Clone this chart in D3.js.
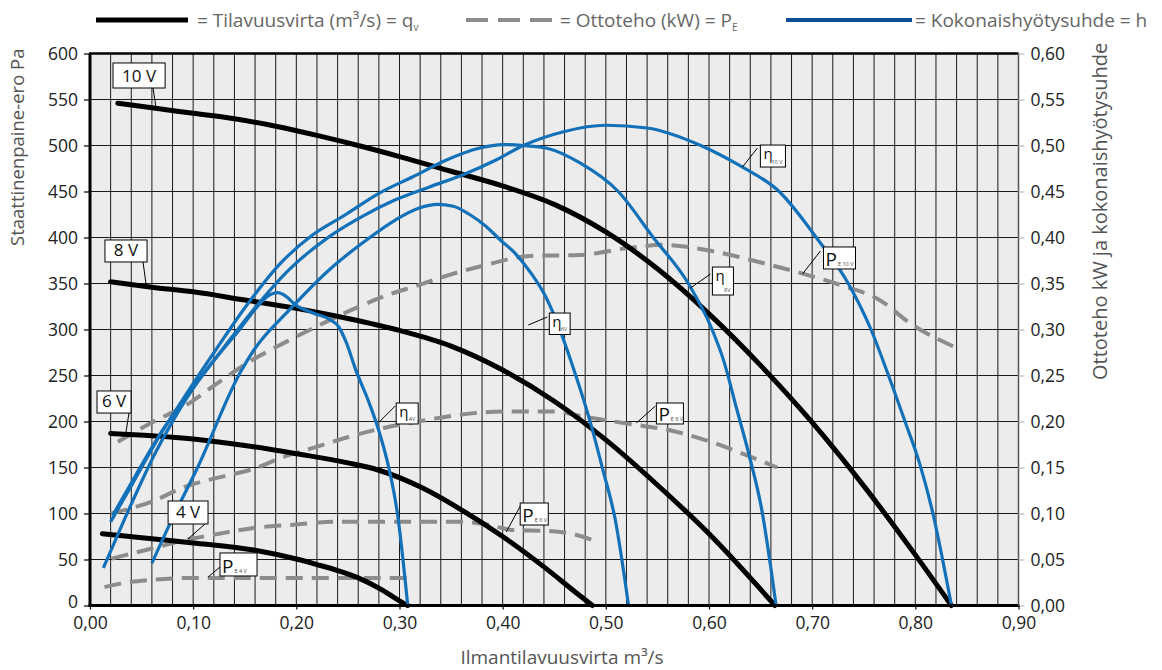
<!DOCTYPE html>
<html><head><meta charset="utf-8">
<script src="https://cdn.jsdelivr.net/npm/d3@7"></script>
<style>
body{margin:0;background:#fff}
svg{display:block}
text{font-family:"Open Sans",Lato,sans-serif}
</style>
</head><body>
<svg id="chart" width="1162" height="670"></svg>
<script>
// ---------- tick labels ----------
const flowTicks = [0,0.1,0.2,0.3,0.4,0.5,0.6,0.7,0.8,0.9];
const pressureTicks = [0,50,100,150,200,250,300,350,400,450,500,550,600];
const powerTicks = [0,0.05,0.1,0.15,0.2,0.25,0.3,0.35,0.4,0.45,0.5,0.55,0.6];

// ---------- static pressure (Pa) vs flow (m3/s) ----------
const pressure4V = [[0.012,78],[0.06,72.5],[0.10,68],[0.16,60],[0.20,50.5],[0.22,44.5],[0.24,38],[0.26,30],[0.283,17],[0.30,5],[0.308,0]];
const pressure6V = [[0.02,187],[0.06,184.5],[0.10,181],[0.15,174],[0.20,165],[0.25,155],[0.28,147],[0.32,129],[0.36,104],[0.40,75],[0.44,42],[0.47,15],[0.487,0]];
const pressure8V = [[0.02,352],[0.06,346],[0.10,341],[0.15,332],[0.20,323],[0.25,312],[0.30,299],[0.35,282],[0.40,256],[0.45,222],[0.50,180],[0.55,131],[0.60,78],[0.664,0]];
const pressure10V = [[0.027,546],[0.06,541],[0.10,535],[0.14,529],[0.18,521],[0.22,511],[0.26,500],[0.30,488],[0.35,472],[0.40,456],[0.45,436],[0.50,406],[0.55,366],[0.60,317],[0.65,261],[0.70,199],[0.75,130],[0.80,55],[0.835,0]];

// ---------- input power (kW) ----------
const power4V = [[0.014,0.02],[0.035,0.025],[0.06,0.028],[0.10,0.030],[0.20,0.030],[0.307,0.030]];
const power6V = [[0.021,0.051],[0.06,0.062],[0.092,0.071],[0.125,0.078],[0.157,0.084],[0.20,0.088],[0.238,0.091],[0.28,0.091],[0.36,0.091],[0.385,0.088],[0.41,0.082],[0.445,0.081],[0.467,0.078],[0.49,0.070]];
const power8V = [[0.02,0.10],[0.06,0.113],[0.092,0.129],[0.124,0.139],[0.157,0.148],[0.189,0.162],[0.221,0.173],[0.253,0.184],[0.285,0.193],[0.318,0.200],[0.35,0.206],[0.382,0.210],[0.41,0.211],[0.446,0.211],[0.485,0.204],[0.525,0.197],[0.564,0.19],[0.604,0.177],[0.635,0.164],[0.666,0.150]];
const power10V = [[0.027,0.178],[0.06,0.199],[0.092,0.217],[0.124,0.242],[0.156,0.266],[0.189,0.286],[0.221,0.304],[0.253,0.321],[0.285,0.336],[0.318,0.348],[0.35,0.36],[0.38,0.369],[0.427,0.380],[0.475,0.381],[0.524,0.389],[0.555,0.392],[0.604,0.385],[0.653,0.372],[0.69,0.361],[0.731,0.347],[0.764,0.333],[0.796,0.306],[0.84,0.28]];

// ---------- total efficiency ----------
const eff4V = [[0.013,0.041],[0.03,0.085],[0.046,0.125],[0.062,0.163],[0.079,0.198],[0.10,0.236],[0.125,0.273],[0.145,0.300],[0.16,0.322],[0.172,0.336],[0.182,0.340],[0.19,0.336],[0.199,0.327],[0.216,0.318],[0.232,0.311],[0.241,0.303],[0.248,0.287],[0.258,0.255],[0.27,0.222],[0.28,0.19],[0.29,0.148],[0.298,0.10],[0.308,0]];
const eff6V = [[0.06,0.046],[0.08,0.095],[0.103,0.147],[0.146,0.254],[0.159,0.278],[0.193,0.321],[0.232,0.365],[0.264,0.394],[0.296,0.419],[0.319,0.432],[0.337,0.436],[0.352,0.434],[0.368,0.425],[0.384,0.412],[0.398,0.397],[0.411,0.384],[0.427,0.362],[0.442,0.335],[0.457,0.295],[0.467,0.263],[0.485,0.199],[0.497,0.148],[0.509,0.094],[0.522,0]];
const eff8V = [[0.02,0.091],[0.04,0.13],[0.063,0.176],[0.09,0.224],[0.122,0.278],[0.151,0.325],[0.183,0.37],[0.216,0.403],[0.248,0.425],[0.28,0.448],[0.313,0.466],[0.345,0.484],[0.377,0.497],[0.40,0.501],[0.42,0.50],[0.443,0.497],[0.475,0.481],[0.512,0.45],[0.546,0.40],[0.58,0.35],[0.603,0.30],[0.614,0.267],[0.627,0.213],[0.639,0.163],[0.651,0.105],[0.665,0]];
const eff10V = [[0.022,0.098],[0.045,0.143],[0.07,0.19],[0.10,0.237],[0.128,0.278],[0.161,0.325],[0.193,0.365],[0.232,0.401],[0.264,0.423],[0.296,0.441],[0.329,0.455],[0.361,0.468],[0.393,0.484],[0.42,0.50],[0.459,0.515],[0.50,0.522],[0.54,0.519],[0.592,0.50],[0.63,0.478],[0.668,0.45],[0.704,0.40],[0.735,0.35],[0.757,0.30],[0.774,0.25],[0.79,0.20],[0.804,0.155],[0.816,0.105],[0.835,0]];

// ---------- curve labels (box corners & leader ends in data units: flow, kW) ----------
const curveLabels = [
  {main:"10 V", sub:"", box:[0.0223,0.5897,0.0728,0.5625], lead:[0.0611,0.5625,0.064,0.541]},
  {main:"8 V", sub:"", box:[0.0145,0.3973,0.0553,0.3734], lead:[0.0514,0.3734,0.0543,0.3495]},
  {main:"6 V", sub:"", box:[0.0068,0.2332,0.0398,0.2092], lead:[0.0378,0.2092,0.0349,0.1886]},
  {main:"4 V", sub:"", box:[0.0757,0.1136,0.1144,0.0886], lead:[0.1115,0.0886,0.095,0.0723]},
  {main:"P", sub:"E 4 V", box:[0.126,0.0571,0.1619,0.0321], lead:[0.126,0.0418,0.1145,0.031]},
  {main:"P", sub:"E 6 V", box:[0.417,0.1114,0.4442,0.0875], lead:[0.417,0.108,0.4035,0.0799]},
  {main:"P", sub:"E 8 V", box:[0.549,0.2201,0.5752,0.1973], lead:[0.548,0.2168,0.5296,0.1984]},
  {main:"P", sub:"E 10 V", box:[0.711,0.3897,0.7420,0.3658], lead:[0.708,0.3853,0.6906,0.3603]},
  {main:"η", sub:"4V", box:[0.2968,0.2201,0.3181,0.1973], lead:[0.2958,0.2168,0.2813,0.2005]},
  {main:"η", sub:"6V", box:[0.4452,0.3179,0.4654,0.2946], lead:[0.4433,0.3136,0.4248,0.3049]},
  {main:"η", sub:"8V", box:[0.6033,0.3679,0.6237,0.3375], lead:[0.6014,0.3603,0.5820,0.3451]},
  {main:"η", sub:"10 V", box:[0.6498,0.5005,0.6741,0.4766], lead:[0.647,0.4973,0.6324,0.4766]}
];

// ---------- drawing ----------
const svg = d3.select("#chart");
const x = d3.scaleLinear().domain([0,0.9]).range([90,1018.5]);
const yL = d3.scaleLinear().domain([0,600]).range([605.5,53.5]);
const yR = d3.scaleLinear().domain([0,0.6]).range([605.5,53.5]);
const comma = f => v => d3.format(f)(v).replace(".", ",");
const tickFont = 17.5;

svg.append("rect").attr("x",x(0)).attr("y",yL(600)).attr("width",x(0.9)-x(0)).attr("height",yL(0)-yL(600)).attr("fill","#ececec");

const gridX = d3.range(0,0.9001,0.02);
svg.append("g").selectAll("line").data(gridX).join("line")
  .attr("x1",d=>x(d)).attr("x2",d=>x(d)).attr("y1",yL(0)).attr("y2",yL(600))
  .attr("stroke","#1a1a1a").attr("stroke-width",1);
svg.append("g").selectAll("line").data(pressureTicks).join("line")
  .attr("x1",x(0)).attr("x2",x(0.9)).attr("y1",d=>yL(d)).attr("y2",d=>yL(d))
  .attr("stroke","#1a1a1a").attr("stroke-width",1);

const lineP = d3.line().x(d=>x(d[0])).y(d=>yL(d[1])).curve(d3.curveMonotoneX);
const lineK = d3.line().x(d=>x(d[0])).y(d=>yR(d[1])).curve(d3.curveMonotoneX);

svg.append("g").selectAll("path").data([power4V,power6V,power8V,power10V]).join("path")
  .attr("d",lineK).attr("fill","none").attr("stroke","#8c8c8c").attr("stroke-width",4)
  .attr("stroke-dasharray","17,9");

svg.append("g").selectAll("path").data([pressure4V,pressure6V,pressure8V,pressure10V]).join("path")
  .attr("d",lineP).attr("fill","none").attr("stroke","#000").attr("stroke-width",5)
  .attr("stroke-linecap","round").attr("stroke-linejoin","round");

svg.append("g").selectAll("path").data([eff4V,eff6V,eff8V,eff10V]).join("path")
  .attr("d",lineK).attr("fill","none").attr("stroke","#1271b8").attr("stroke-width",3.2)
  .attr("stroke-linejoin","round");

// frame
svg.append("line").attr("x1",x(0)-1).attr("x2",x(0.9)).attr("y1",yL(600)).attr("y2",yL(600)).attr("stroke","#000").attr("stroke-width",2.5);
svg.append("line").attr("x1",x(0)).attr("x2",x(0)).attr("y1",yL(600)).attr("y2",yL(0)+1.5).attr("stroke","#000").attr("stroke-width",3);
svg.append("line").attr("x1",x(0)-1.5).attr("x2",x(0.9)+1).attr("y1",yL(0)).attr("y2",yL(0)).attr("stroke","#000").attr("stroke-width",3);
svg.append("line").attr("x1",x(0.9)).attr("x2",x(0.9)).attr("y1",yL(600)).attr("y2",yL(0)).attr("stroke","#555").attr("stroke-width",1.5);

// axes
const axL = svg.append("g").attr("transform",`translate(${x(0)},0)`)
  .call(d3.axisLeft(yL).tickValues(pressureTicks).tickSize(6).tickPadding(6));
axL.select(".domain").remove();
axL.selectAll(".tick line").attr("stroke","#000").attr("stroke-width",1.2);
axL.selectAll(".tick text").attr("font-size",tickFont).attr("fill","#222").attr("font-family","Open Sans");
axL.selectAll(".tick").filter(d=>d===0).select("text").attr("dy","0.1em");

const axR = svg.append("g").attr("transform",`translate(${x(0.9)},0)`)
  .call(d3.axisRight(yR).tickValues(powerTicks).tickFormat(comma(".2f")).tickSize(6).tickPadding(6));
axR.select(".domain").remove();
axR.selectAll(".tick line").attr("stroke","#bbb").attr("stroke-width",1.2);
axR.selectAll(".tick text").attr("font-size",tickFont).attr("fill","#222").attr("font-family","Open Sans");

const axB = svg.append("g").attr("transform",`translate(0,${yL(0)})`)
  .call(d3.axisBottom(x).tickValues(flowTicks).tickFormat(comma(".2f")).tickSize(4).tickPadding(7));
axB.select(".domain").remove();
axB.selectAll(".tick line").attr("stroke","#000").attr("stroke-width",1.2);
axB.selectAll(".tick text").attr("font-size",tickFont).attr("fill","#222").attr("font-family","Open Sans");

// axis titles
svg.append("text").attr("transform","translate(24,246) rotate(-90)").attr("font-size",18.5).attr("fill","#555")
  .text("Staattinenpaine-ero Pa");
svg.append("text").attr("transform","translate(1107,380) rotate(-90)").attr("font-size",20).attr("fill","#555")
  .text("Ottoteho kW ja kokonaishyötysuhde");
svg.append("text").attr("x",562).attr("y",663.5).attr("text-anchor","middle").attr("font-size",19).attr("fill","#555")
  .text("Ilmantilavuusvirta m³/s");

// curve labels
const lab = svg.append("g");
curveLabels.forEach(c=>{
  const x0=x(c.box[0]), y0=yR(c.box[1]), x1=x(c.box[2]), y1=yR(c.box[3]);
  lab.append("line").attr("x1",x(c.lead[0])).attr("y1",yR(c.lead[1])).attr("x2",x(c.lead[2])).attr("y2",yR(c.lead[3]))
    .attr("stroke","#000").attr("stroke-width",1);
  lab.append("rect").attr("x",x0).attr("y",y0).attr("width",x1-x0).attr("height",y1-y0)
    .attr("fill","#fff").attr("stroke","#000").attr("stroke-width",1);
  if(c.sub===""){
    lab.append("text").attr("x",(x0+x1)/2).attr("y",y1-6).attr("text-anchor","middle")
      .attr("font-size",17).attr("fill","#111").text(c.main);
  } else if(c.main==="P"){
    const t = lab.append("text").attr("x",x0+2).attr("y",y1-3).attr("fill","#111");
    t.append("tspan").attr("font-size",19).text("P");
    t.append("tspan").attr("font-size",5.5).attr("dx",1).attr("fill","#444").text(c.sub);
  } else {
    lab.append("text").attr("x",x0+3).attr("y",y0+14).attr("font-size",15).attr("fill","#111").text("η");
    lab.append("text").attr("x",x1-3).attr("y",y1-3).attr("text-anchor","end").attr("font-size",5.5).attr("fill","#444").text(c.sub);
  }
});

// legend
const lg = svg.append("g");
const legFont = 19;
lg.append("line").attr("x1",96).attr("x2",188).attr("y1",20).attr("y2",20).attr("stroke","#000").attr("stroke-width",5);
const t1 = lg.append("text").attr("x",197).attr("y",27).attr("font-size",legFont).attr("fill","#666");
t1.append("tspan").text("= Tilavuusvirta (m³/s) = q");
t1.append("tspan").attr("font-size",10).attr("dy",4).text("v");
lg.append("line").attr("x1",466).attr("x2",552).attr("y1",20).attr("y2",20).attr("stroke","#8c8c8c").attr("stroke-width",4).attr("stroke-dasharray","22,10");
const t2 = lg.append("text").attr("x",560).attr("y",27).attr("font-size",legFont).attr("fill","#666");
t2.append("tspan").text("= Ottoteho (kW) = P");
t2.append("tspan").attr("font-size",10).attr("dy",4).text("E");
lg.append("line").attr("x1",786).attr("x2",912).attr("y1",20).attr("y2",20).attr("stroke","#0d4c96").attr("stroke-width",4);
lg.append("text").attr("x",915).attr("y",27).attr("font-size",legFont).attr("fill","#666").text("= Kokonaishyötysuhde = h");
</script>
</body></html>
